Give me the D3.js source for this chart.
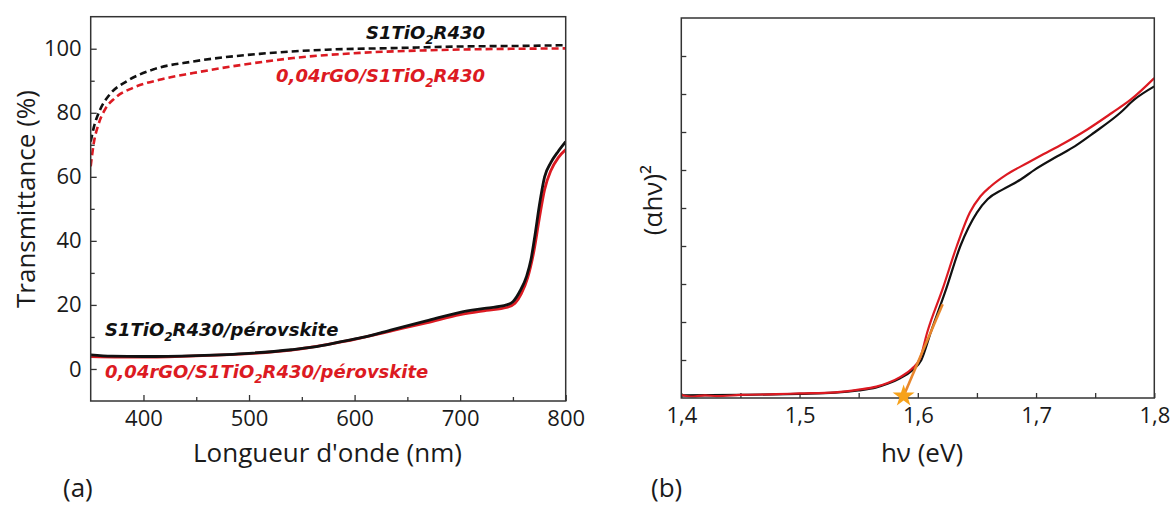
<!DOCTYPE html>
<html><head><meta charset="utf-8">
<script src="https://cdn.jsdelivr.net/npm/d3@7"></script>
<style>
body{margin:0;background:#fff}
svg{display:block}
text{font-family:"Open Sans",sans-serif}
</style>
</head><body>
<svg id="chart" width="1174" height="508"></svg>
<script>
// ---------- Panel (a) data : transmittance ----------
const wavelengthTicks = [400, 500, 600, 700, 800];
const wavelengthMinor = [450, 550, 650, 750];
const transTicks = [0, 20, 40, 60, 80, 100];
const transMinor = [10, 30, 50, 70, 90];

const refFilm = [[350,71],[353,75.5],[359,81],[368,85.7],[384,89.8],[409,93.5],[447,96],[510,98.4],[573,99.7],[636,100.2],[700,100.7],[763,100.9],[800,101.1]];
const rgoFilm = [[350,63.3],[353,70.7],[357,76],[363.5,81],[373,84.6],[390,87.8],[415,90.3],[447,92.4],[494,95],[542,97.1],[605,98.7],[668,99.5],[731,99.9],[800,100.1]];
const refPerov = [[350,4.4],[370,4.0],[400,3.9],[450,4.2],[500,4.9],[540,6.0],[560,6.8],[590,8.7],[610,10],[636,12.3],[668,15],[700,17.7],[725,19],[744,20],[750,21],[757,24.5],[763,29],[767,34],[771,42],[775,51],[780,60],[786,64.5],[793,68],[800,71]];
const rgoPerov = [[350,3.9],[400,3.7],[450,4.1],[500,4.8],[540,5.9],[590,8.6],[636,12.0],[668,14.4],[700,17.0],[725,18.3],[744,19.2],[752,20.5],[758,23.5],[764,28.5],[770,37],[775,47],[780,56],[786,62],[793,66],[800,68.5]];

// ---------- Panel (b) data : Tauc plot ----------
const energyTicks = [1.4, 1.5, 1.6, 1.7, 1.8];
const energyMinor = [1.45, 1.55, 1.65, 1.75];
const taucTicks = [1,2,3,4,5,6,7,8,9];
const taucRef = [[1.4,0.07],[1.45,0.08],[1.5,0.11],[1.53,0.14],[1.55,0.2],[1.565,0.28],[1.575,0.38],[1.585,0.52],[1.595,0.72],[1.603,1.0],[1.611,1.73],[1.624,2.87],[1.636,4.0],[1.65,4.88],[1.659,5.23],[1.672,5.49],[1.687,5.75],[1.699,6.01],[1.718,6.36],[1.733,6.63],[1.749,6.98],[1.771,7.5],[1.783,7.85],[1.8,8.2]];
const taucRgo = [[1.4,0.08],[1.41,0.04],[1.42,0.07],[1.43,0.05],[1.45,0.08],[1.48,0.1],[1.5,0.12],[1.53,0.15],[1.55,0.22],[1.565,0.3],[1.575,0.4],[1.585,0.55],[1.595,0.77],[1.602,1.05],[1.608,1.73],[1.621,2.87],[1.633,4.0],[1.644,4.88],[1.653,5.31],[1.662,5.58],[1.675,5.88],[1.693,6.19],[1.703,6.36],[1.724,6.71],[1.743,7.06],[1.764,7.5],[1.78,7.85],[1.8,8.42]];
const tangent = [[1.588,0.05],[1.621,2.47]];
const bandgapPoint = [1.588, 0.05];

// ---------- drawing ----------
const svg = d3.select("#chart");
const RED = "#dc1a22", BLACK = "#111", AX = "#333";
const fmtComma = d => d3.format(".1f")(d).replace(".", ",");

// Panel (a)
const ax = d3.scaleLinear().domain([350, 800]).range([90.7, 565.7]);
const ay = d3.scaleLinear().domain([-10, 110]).range([401, 16.7]);
const ga = svg.append("g");

function styleAxis(g){
  g.select(".domain").remove();
  g.selectAll("line").attr("stroke", AX).attr("stroke-width", 1.3);
  g.selectAll("text").attr("fill", "#1a1a1a").style("font-size", "22px").style("font-family", "'Open Sans',sans-serif");
}
ga.append("g").attr("transform", "translate(0,401)")
  .call(d3.axisBottom(ax).tickValues(wavelengthTicks).tickSize(-6).tickPadding(9.5)).call(styleAxis);
ga.append("g").attr("transform", "translate(0,401)")
  .call(d3.axisBottom(ax).tickValues(wavelengthMinor).tickSize(-4).tickFormat("")).call(styleAxis);
ga.append("g").attr("transform", "translate(90.7,0)")
  .call(d3.axisLeft(ay).tickValues(transTicks).tickSize(-6).tickPadding(9)).call(styleAxis);
ga.append("g").attr("transform", "translate(90.7,0)")
  .call(d3.axisLeft(ay).tickValues(transMinor).tickSize(-4).tickFormat("")).call(styleAxis);

ga.append("defs").append("clipPath").attr("id", "clipA").append("rect")
  .attr("x", 90.7).attr("y", 16.7).attr("width", 475).attr("height", 384.3);
const lineA = d3.line().x(d => ax(d[0])).y(d => ay(d[1])).curve(d3.curveMonotoneX);
const gl = ga.append("g").attr("clip-path", "url(#clipA)");
gl.append("path").attr("d", lineA(refFilm)).attr("fill", "none").attr("stroke", BLACK).attr("stroke-width", 2.6).attr("stroke-dasharray", "7,4");
gl.append("path").attr("d", lineA(rgoFilm)).attr("fill", "none").attr("stroke", RED).attr("stroke-width", 2.6).attr("stroke-dasharray", "7,4");
gl.append("path").attr("d", lineA(rgoPerov)).attr("fill", "none").attr("stroke", RED).attr("stroke-width", 2.8);
gl.append("path").attr("d", lineA(refPerov)).attr("fill", "none").attr("stroke", BLACK).attr("stroke-width", 2.8);

ga.append("rect").attr("x", 90.7).attr("y", 16.7).attr("width", 475).attr("height", 384.3)
  .attr("fill", "none").attr("stroke", AX).attr("stroke-width", 1.5);

// legend labels
function label(g, parts, x, y, color, anchor){
  const t = g.append("text").attr("x", x).attr("y", y).attr("fill", color)
    .attr("text-anchor", anchor)
    .style("font-family", "'DejaVu Sans',sans-serif")
    .style("font-size", "18px").style("font-weight", "bold").style("font-style", "italic");
  parts.forEach(p => {
    if (p.sub) {
      t.append("tspan").text(p.sub).style("font-size", "12px").attr("dy", "5");
    } else {
      const s = t.append("tspan").text(p.t);
      if (p.after) s.attr("dy", "-5");
    }
  });
}
label(ga, [{t:"S1TiO"},{sub:"2"},{t:"R430", after:true}], 485, 39, BLACK, "end");
label(ga, [{t:"0,04rGO/S1TiO"},{sub:"2"},{t:"R430", after:true}], 485, 82, RED, "end");
label(ga, [{t:"S1TiO"},{sub:"2"},{t:"R430/pérovskite", after:true}], 105, 336, BLACK, "start");
label(ga, [{t:"0,04rGO/S1TiO"},{sub:"2"},{t:"R430/pérovskite", after:true}], 105, 378, RED, "start");

ga.append("text").attr("transform", "translate(35,199) rotate(-90)").attr("text-anchor", "middle")
  .attr("fill", "#1a1a1a").style("font-size", "26px").text("Transmittance (%)");
ga.append("text").attr("x", 327.5).attr("y", 462).attr("text-anchor", "middle")
  .attr("fill", "#1a1a1a").style("font-size", "26px").text("Longueur d'onde (nm)");
ga.append("text").attr("x", 63).attr("y", 497).attr("fill", "#1a1a1a").style("font-size", "26px").text("(a)");

// Panel (b)
const bx = d3.scaleLinear().domain([1.4, 1.8]).range([681.3, 1154.3]);
const by = d3.scaleLinear().domain([0, 10]).range([398, 18]);
const gb = svg.append("g");
gb.append("g").attr("transform", "translate(0,398)")
  .call(d3.axisBottom(bx).tickValues(energyTicks).tickSize(-5).tickPadding(9.5).tickFormat(fmtComma)).call(styleAxis);
gb.append("g").attr("transform", "translate(0,398)")
  .call(d3.axisBottom(bx).tickValues(energyMinor).tickSize(-5).tickFormat("")).call(styleAxis);
gb.append("g").attr("transform", "translate(681.3,0)")
  .call(d3.axisLeft(by).tickValues(taucTicks).tickSize(-5).tickFormat("")).call(styleAxis);

gb.append("defs").append("clipPath").attr("id", "clipB").append("rect")
  .attr("x", 681.3).attr("y", 18).attr("width", 473).attr("height", 380);
const lineB = d3.line().x(d => bx(d[0])).y(d => by(d[1])).curve(d3.curveMonotoneX);
const gbl = gb.append("g").attr("clip-path", "url(#clipB)");
gbl.append("path").attr("d", lineB(taucRef)).attr("fill", "none").attr("stroke", BLACK).attr("stroke-width", 2.2);
gbl.append("path").attr("d", lineB(taucRgo)).attr("fill", "none").attr("stroke", RED).attr("stroke-width", 2.2);
gb.append("path").attr("d", d3.line().x(d => bx(d[0])).y(d => by(d[1]))(tangent))
  .attr("fill", "none").attr("stroke", "#e8862c").attr("stroke-width", 2.6);

gb.append("rect").attr("x", 681.3).attr("y", 18).attr("width", 473).attr("height", 380)
  .attr("fill", "none").attr("stroke", AX).attr("stroke-width", 1.5);

gb.append("path").attr("d", d3.symbol(d3.symbolStar, 150)())
  .attr("transform", `translate(${bx(bandgapPoint[0])},${by(bandgapPoint[1])})`)
  .attr("fill", "#f7a21b");

gb.append("text").attr("transform", "translate(662,200) rotate(-90)").attr("text-anchor", "middle")
  .attr("fill", "#1a1a1a").style("font-size", "26px").text("(αhν)²");
gb.append("text").attr("x", 922).attr("y", 462).attr("text-anchor", "middle")
  .attr("fill", "#1a1a1a").style("font-size", "26px").text("hν (eV)");
gb.append("text").attr("x", 651).attr("y", 497).attr("fill", "#1a1a1a").style("font-size", "26px").text("(b)");
</script>
</body></html>
